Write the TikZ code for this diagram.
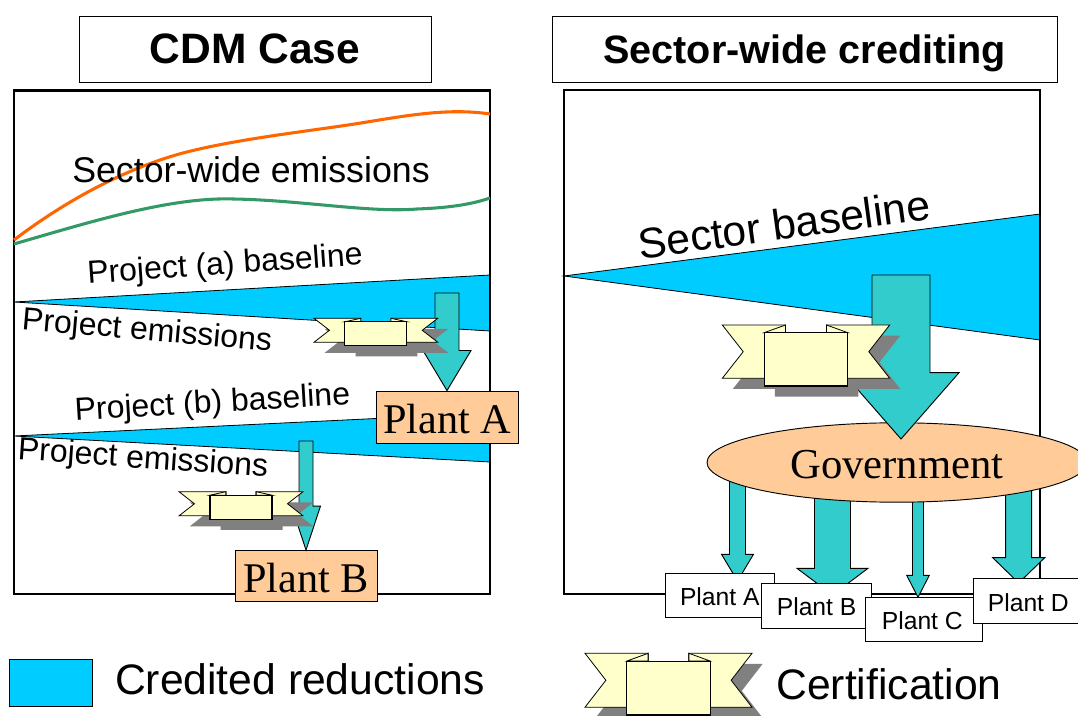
\documentclass[tikz,border=0pt]{standalone}
\usepackage{fontspec}
\setmainfont{Liberation Sans}
\newfontfamily\plantserif{Liberation Serif}
\usepackage{xcolor}
\usetikzlibrary{shapes.geometric}
\definecolor{creditblue}{RGB}{0, 204, 255}
\definecolor{arrowteal}{RGB}{51, 204, 204}
\definecolor{plantorange}{RGB}{255, 204, 153}
\definecolor{bannercream}{RGB}{255, 255, 204}
\definecolor{shadowgray}{RGB}{128, 128, 128}
\definecolor{curveorange}{RGB}{255, 102, 0}
\definecolor{curvegreen}{RGB}{51, 153, 102}
\tikzset{
  panelbox/.style={draw=black, line width=1.7pt},
  titlebox/.style={draw=black, line width=0.7pt, fill=white, inner sep=0pt},
  wedge/.style={fill=creditblue, draw=black, line width=0.6pt},
  plantbig/.style={draw=black, line width=0.7pt, fill=plantorange, inner sep=0pt, text height=24pt, text depth=0pt, font=\plantserif\fontsize{31.7}{36}\selectfont},
  plantsmall/.style={draw=black, line width=0.7pt, fill=white, inner sep=0pt, text height=14.8pt, text depth=0pt, font=\fontsize{18.5}{22}\selectfont},
  slanted/.style={inner sep=0pt, font=\fontsize{24}{28}\selectfont},
  bannershadow/.pic={
    \fill[shadowgray] (0,0) -- (0.378,0) -- (0.378,0.126) -- (0.622,0.126) -- (0.622,0) -- (1,0) -- (0.875,0.437) -- (1,0.874) -- (0.75,0.874) -- (0.75,1) -- (0.25,1) -- (0.25,0.874) -- (0,0.874) -- (0.125,0.437) -- cycle;
  },
  bannerbody/.pic={
    \filldraw[fill=bannercream, draw=black, line width=0.6pt] (0,0) -- (0.378,0) -- (0.378,0.126) -- (0.25,0.874) -- (0,0.874) -- (0.125,0.437) -- cycle;
    \filldraw[fill=bannercream, draw=black, line width=0.6pt] (1,0) -- (0.622,0) -- (0.622,0.126) -- (0.75,0.874) -- (1,0.874) -- (0.875,0.437) -- cycle;
    \filldraw[fill=bannercream, draw=black, line width=0.6pt] (0.25,0.126) -- (0.378,0) -- (0.378,0.126) -- cycle;
    \filldraw[fill=bannercream, draw=black, line width=0.6pt] (0.75,0.126) -- (0.622,0) -- (0.622,0.126) -- cycle;
    \filldraw[fill=bannercream, draw=black, line width=0.8pt] (0.25,0.126) rectangle (0.75,1);
  },
}
% start, tip, shaft half width, head half width, head length
\newcommand{\blockarrow}[5]{
  \path (#1) coordinate (from) (#2) coordinate (to);
  \filldraw[fill=arrowteal, draw=black, line width=0.7pt]
    ([xshift=-#3*0.75pt]from) -- ([xshift=#3*0.75pt]from)
    -- ([xshift=#3*0.75pt,yshift=#5*0.75pt]to) -- ([xshift=#4*0.75pt,yshift=#5*0.75pt]to)
    -- (to) -- ([xshift=-#4*0.75pt,yshift=#5*0.75pt]to)
    -- ([xshift=-#3*0.75pt,yshift=#5*0.75pt]to) -- cycle;
}
\newcommand{\certbanner}[4]{
  \pic[xscale=#3, yscale=#4] at (#1+10.6,#2+10.6) {bannershadow};
  \pic[xscale=#3, yscale=#4] at (#1,#2) {bannerbody};
}
\begin{document}
\begin{tikzpicture}[x=0.75pt, y=-0.75pt]
\useasboundingbox (0,0) rectangle (1078,716);

% titles
\node[titlebox, minimum width=352*0.75pt, minimum height=66*0.75pt, font=\bfseries\fontsize{31.9}{36}\selectfont] (titlecdm) at (255,49) {CDM Case};
\node[titlebox, minimum width=505*0.75pt, minimum height=66*0.75pt, font=\bfseries\fontsize{29.7}{36}\selectfont, text depth=0pt] (titlesector) at (804.5,49) {Sector-wide crediting};

% left panel
\draw[fill=creditblue, draw=none] (14,302) -- (490,275) -- (490,331) -- cycle;
\draw[wedge] (490,275) -- (14,302) -- (490,331);
\draw[fill=creditblue, draw=none] (14,436) -- (490,413) -- (490,462) -- cycle;
\draw[wedge] (490,413) -- (14,436) -- (490,462);
\draw[panelbox] (14,90.5) rectangle (490,594);
\draw[curveorange, line width=2.3pt] (14,240) .. controls (60,205) and (120,170) .. (183,153) .. controls (240,138) and (320,130) .. (367,122) .. controls (410,115) and (450,108) .. (490,114);
\draw[curvegreen, line width=2.3pt] (14,244) .. controls (90,222) and (170,197) .. (233,199) .. controls (300,200) and (370,213) .. (417,209) .. controls (445,208) and (470,205) .. (490,198);
\node[inner sep=0pt, font=\fontsize{26.8}{30}\selectfont] (sectorlabel) at (251,170) {Sector-wide emissions};
\node[slanted, rotate=4] (baselinea) at (225,266) {Project (a) baseline};
\node[slanted, rotate=-5] (emissionsa) at (147,332) {Project emissions};
\node[slanted, rotate=3.4] (baselineb) at (212.5,404) {Project (b) baseline};
\node[slanted, rotate=-4] (emissionsb) at (143,460) {Project emissions};

\node[plantbig, minimum width=142*0.75pt, minimum height=52*0.75pt] (planta) at (447,417) {Plant A};
\node[plantbig, minimum width=142*0.75pt, minimum height=51*0.75pt] (plantb) at (306,576) {Plant B};
\coordinate (sourcea) at (447,293);
\coordinate (sourceb) at (306,441);
\blockarrow{sourcea}{planta.north}{12}{24}{40}
\blockarrow{sourceb}{plantb.north}{7}{14.5}{44}
\certbanner{314}{318.3}{123.7}{27.4}
\certbanner{179}{491.7}{124}{27.6}

% right panel
\draw[fill=creditblue, draw=none] (564,276) -- (1040,214) -- (1040,340) -- cycle;
\draw[wedge] (1040,214) -- (564,276) -- (1040,340);
\draw[panelbox] (564,90) rectangle (1040,594);
\node[inner sep=0pt, rotate=7.8, font=\fontsize{32}{36}\selectfont] (sectorbase) at (784,224) {Sector baseline};

\coordinate (sourcega) at (737.5,470);
\coordinate (sourcegb) at (832.5,470);
\coordinate (sourcegc) at (918,470);
\coordinate (sourcegd) at (1018.7,470);
\coordinate (tipga) at (737.5,581);
\coordinate (tipgb) at (832.5,595);
\coordinate (tipgc) at (918,597.3);
\coordinate (tipgd) at (1018.7,583);
\blockarrow{sourcega}{tipga}{8}{16}{26.7}
\blockarrow{sourcegb}{tipgb}{18}{35.5}{26.7}
\blockarrow{sourcegc}{tipgc}{5.5}{11.3}{22}
\blockarrow{sourcegd}{tipgd}{13}{26}{25.3}
\node[draw=black, line width=0.7pt, fill=plantorange, ellipse, inner sep=0pt, minimum width=380*0.75pt, minimum height=79.4*0.75pt, text height=24pt, text depth=0pt, font=\plantserif\fontsize{32}{36}\selectfont] (government) at (897,462.5) {Government};
\coordinate (sourcecert) at (901,275);
\coordinate (tipcert) at (901,439);
\blockarrow{sourcecert}{tipcert}{29}{58}{66.3}
\certbanner{722.3}{325}{167.4}{61}

\node[plantsmall, minimum width=109*0.75pt, minimum height=44.4*0.75pt] (smalla) at (719.8,595.5) {Plant A};
\node[plantsmall, minimum width=109.3*0.75pt, minimum height=44.6*0.75pt] (smallb) at (816.6,606) {Plant B};
\node[plantsmall, minimum width=116.7*0.75pt, minimum height=44*0.75pt] (smallc) at (924.3,619.3) {Plant C\kern 3pt};
\node[plantsmall, minimum width=109.3*0.75pt, minimum height=44.7*0.75pt] (smalld) at (1028.3,601.3) {Plant D};

% legend
\node[draw=black, line width=0.7pt, fill=creditblue, inner sep=0pt, minimum width=83*0.75pt, minimum height=47*0.75pt] (legendblue) at (50.5,682.5) {};
\node[inner sep=0pt, font=\fontsize{32}{36}\selectfont] (legendcredit) at (300,679) {Credited reductions};
\certbanner{585}{653.3}{167}{61.7}
\node[inner sep=0pt, font=\fontsize{32}{36}\selectfont] (legendcert) at (889,684) {Certification};
\end{tikzpicture}
\end{document}
